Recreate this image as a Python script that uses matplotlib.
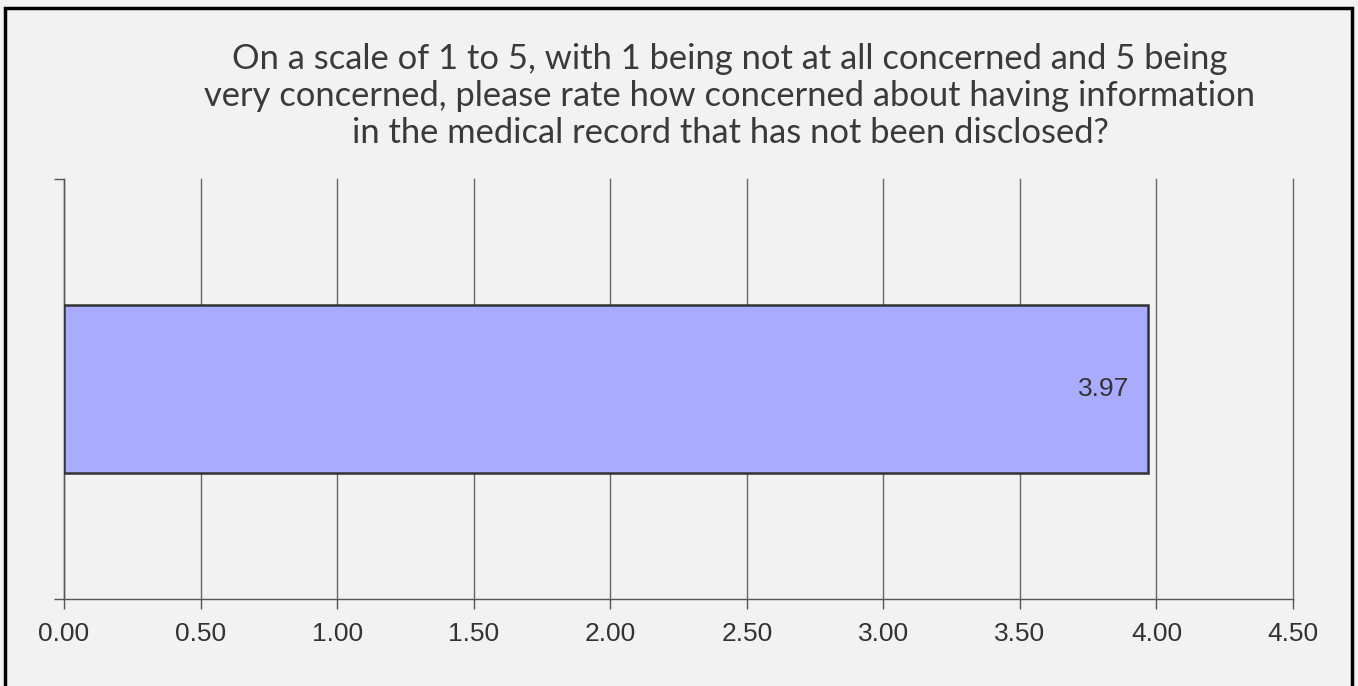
import matplotlib
matplotlib.use("Agg")
import matplotlib.pyplot as plt
from matplotlib.patches import Rectangle

# data
categories = [""]
values = [3.97]
value_labels = ["3.97"]
x_ticks = [0.0, 0.5, 1.0, 1.5, 2.0, 2.5, 3.0, 3.5, 4.0, 4.5]
title = ("On a scale of 1 to 5, with 1 being not at all concerned and 5 being\n"
         "very concerned, please rate how concerned about having information\n"
         "in the medical record that has not been disclosed?")

W, H = 1358, 686
bg = "#f2f2f2"

fig = plt.figure(figsize=(W / 100, H / 100), dpi=100, facecolor=bg)
ax = fig.add_axes([64 / W, 1 - 599 / H, (1293 - 64) / W, (599 - 179) / H])
ax.set_facecolor(bg)

ax.barh(range(len(values)), values, height=0.4, color="#a9abff",
        edgecolor="#333333", linewidth=1.8, zorder=3)
for i, (v, lab) in enumerate(zip(values, value_labels)):
    ax.text(v - 0.07, i, lab, ha="right", va="center", fontsize=19,
            family="Liberation Sans", color="#333333", zorder=4)

ax.set_xlim(0, 4.5)
ax.set_ylim(-0.5, 0.5)
ax.set_xticks(x_ticks)
ax.set_xticklabels([f"{t:.2f}" for t in x_ticks], family="Liberation Sans",
                   fontsize=19, color="#333333")
ax.set_yticks([-0.5, 0.5])
ax.set_yticklabels(["", ""])
ax.tick_params(axis="x", length=7, width=1, color="#555555", pad=9.5)
ax.tick_params(axis="y", length=7, width=1, color="#555555")
ax.grid(axis="x", color="#666666", linewidth=1, zorder=0)
for line in ax.get_xgridlines():
    line.set_clip_on(False)
for side in ["top", "right"]:
    ax.spines[side].set_visible(False)
for side in ["left", "bottom"]:
    ax.spines[side].set_color("#555555")
    ax.spines[side].set_linewidth(1)

fig.text(730 / W, 1 - 96 / H, title, ha="center", va="center",
         fontsize=24.8, family="Lato", color="#3a3a3a", linespacing=1.2)

fig.patches.append(Rectangle((5 / W, -0.05), (1352 - 5) / W, 1.05 - 8 / H,
                             transform=fig.transFigure, fill=False,
                             edgecolor="black", linewidth=2.5))

fig.savefig("out.png", dpi=100, facecolor=bg)
